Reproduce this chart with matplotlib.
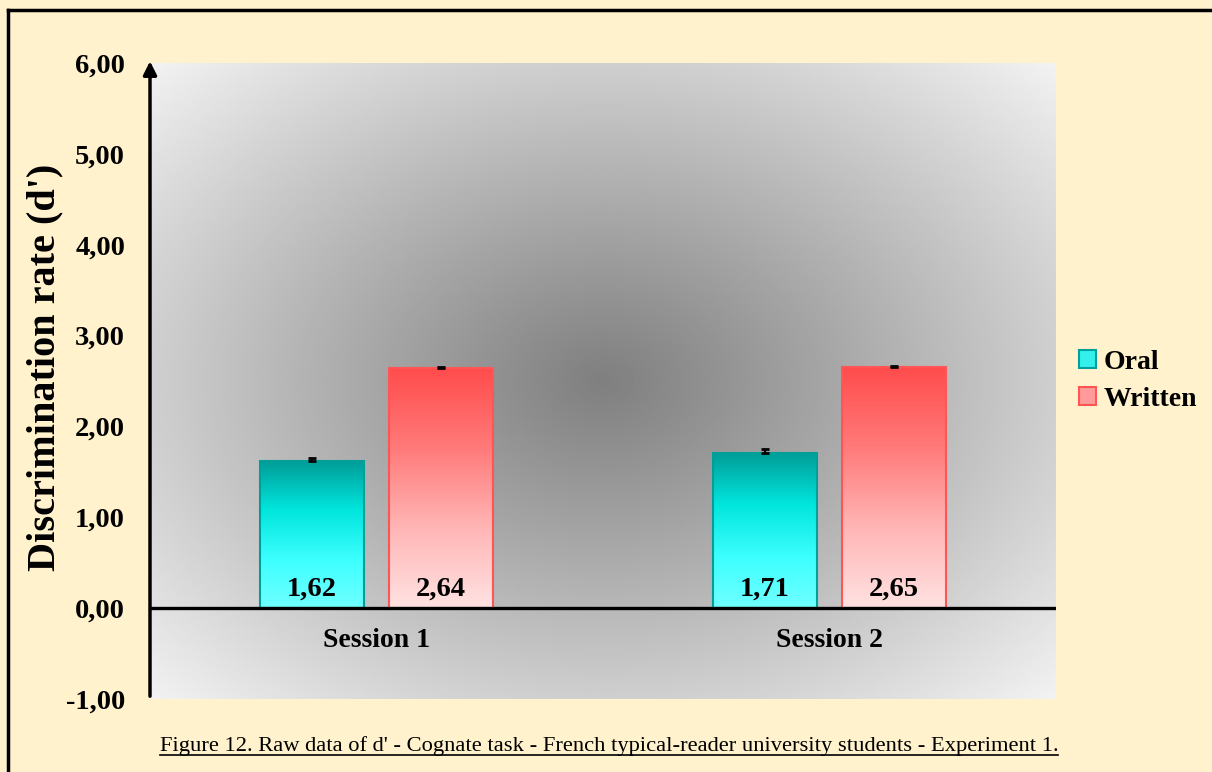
import numpy as np
import matplotlib
matplotlib.use("Agg")
import matplotlib.pyplot as plt
from matplotlib.colors import LinearSegmentedColormap
from matplotlib.lines import Line2D
from matplotlib.patches import Patch

# data
sessions = ["Session 1", "Session 2"]
series = ["Oral", "Written"]
oral = [1.62, 1.71]
written = [2.64, 2.65]
oral_err = [0.03, 0.04]
written_err = [0.01, 0.01]
oral_labels = ["1,62", "1,71"]
written_labels = ["2,64", "2,65"]
yticks = [-1, 0, 1, 2, 3, 4, 5, 6]
ytick_labels = ["-1,00", "0,00", "1,00", "2,00", "3,00", "4,00", "5,00", "6,00"]
caption = "Figure 12. Raw data of d' - Cognate task - French typical-reader university students - Experiment 1."

W, H = 1212, 772
serif = ["Liberation Serif", "DejaVu Serif"]
cream = "#FFF2CC"

fig = plt.figure(figsize=(W / 100, H / 100), dpi=100, facecolor=cream)
ax = fig.add_axes([150 / W, 1 - 699 / H, 906 / W, 636 / H])
ax.set_xlim(-0.5, 1.5)
ax.set_ylim(-1, 6)

# radial grey background
nx, ny = 400, 300
gx, gy = np.meshgrid(np.linspace(-1, 1, nx), np.linspace(-1, 1, ny))
r = np.sqrt(gx ** 2 + gy ** 2) / np.sqrt(2)
bg = 0.50 + 0.45 * r ** 1.05
ax.imshow(bg, cmap="gray", vmin=0, vmax=1, extent=[-0.5, 1.5, -1, 6],
          aspect="auto", zorder=0, interpolation="bilinear")

for s in ax.spines.values():
    s.set_visible(False)

teal_cmap = LinearSegmentedColormap.from_list("teal", ["#70FFFF", "#3CFFFF", "#00E5DD", "#009C96"])
red_cmap = LinearSegmentedColormap.from_list("red", ["#FFE2E2", "#FFB5B5", "#FF7A7A", "#FF4C4C"])

x = np.arange(len(sessions))
bw = 0.23
off = 0.142
grad = np.linspace(0, 1, 256).reshape(-1, 1)

def gradient_bars(xs, vals, cmap, edge):
    bars = ax.bar(xs, vals, bw, facecolor="none", edgecolor=edge, linewidth=1.5, zorder=3)
    for b in bars:
        im = ax.imshow(grad, cmap=cmap, origin="lower", aspect="auto", zorder=2,
                       extent=[b.get_x(), b.get_x() + b.get_width(), 0, b.get_height()])
        im.set_clip_path(b)
    return bars

gradient_bars(x - off, oral, teal_cmap, "#00A09A")
gradient_bars(x + off, written, red_cmap, "#FF5555")
ax.set_xlim(-0.5, 1.5)
ax.set_ylim(-1, 6)

ax.errorbar(x - off, oral, yerr=[[0, 0], oral_err], fmt="none", ecolor="black",
            capsize=3, elinewidth=1.5, capthick=2, zorder=4)
ax.errorbar(x + off, written, yerr=[[0, 0], written_err], fmt="none", ecolor="black",
            capsize=3, elinewidth=1.5, capthick=2, zorder=4)

for i in range(len(sessions)):
    ax.text(x[i] - off, 0.21, oral_labels[i], ha="center", va="center",
            fontsize=20.5, fontweight="bold", family=serif, zorder=5)
    ax.text(x[i] + off, 0.21, written_labels[i], ha="center", va="center",
            fontsize=20.5, fontweight="bold", family=serif, zorder=5)
    ax.text(x[i], -0.36, sessions[i], ha="center", va="center",
            fontsize=20, fontweight="bold", family=serif, zorder=5)

ax.axhline(0, color="black", lw=2.4, zorder=6)
ax.annotate("", xy=(-0.5, 6.05), xytext=(-0.5, -1), annotation_clip=False,
            arrowprops=dict(arrowstyle="-|>", color="black", lw=2.5, mutation_scale=20))

ax.set_xticks([])
ax.set_yticks(yticks)
ax.set_yticklabels(ytick_labels, family=serif, fontweight="bold", fontsize=20.5)
ax.tick_params(axis="y", length=0, pad=18)

fig.text(45 / W, 1 - 367 / H, "Discrimination rate (d')", rotation=90, ha="center", va="center",
         fontsize=29, fontweight="bold", family=serif)

handles = [Patch(facecolor="#33F0EC", edgecolor="#00A09A", lw=1.5),
           Patch(facecolor="#FF9A9A", edgecolor="#FF5555", lw=1.5)]
leg = fig.legend(handles, series, loc="center left", bbox_to_anchor=(1079 / W, 1 - 381 / H),
                 frameon=False, borderpad=0, borderaxespad=0,
                 handlelength=0.62, handleheight=0.62, handletextpad=0.25,
                 labelspacing=0.45, prop=dict(family=serif, weight="bold", size=20))

cap = fig.text(609 / W, 1 - 746 / H, caption, ha="center", va="center",
               fontsize=16.2, family=serif)

# page border (left and top)
fig.add_artist(Line2D([8 / W, 8 / W], [0, 1 - 10 / H], color="black", lw=2.5, transform=fig.transFigure))
fig.add_artist(Line2D([8 / W, 1], [1 - 10 / H, 1 - 10 / H], color="black", lw=2.5, transform=fig.transFigure))

# underline the caption
fig.canvas.draw()
bb = cap.get_window_extent()
uy = (bb.y0 + 1) / H
fig.add_artist(Line2D([bb.x0 / W, bb.x1 / W], [uy, uy], color="black", lw=1.2, transform=fig.transFigure))

fig.savefig("out.png", dpi=100, facecolor=cream)
